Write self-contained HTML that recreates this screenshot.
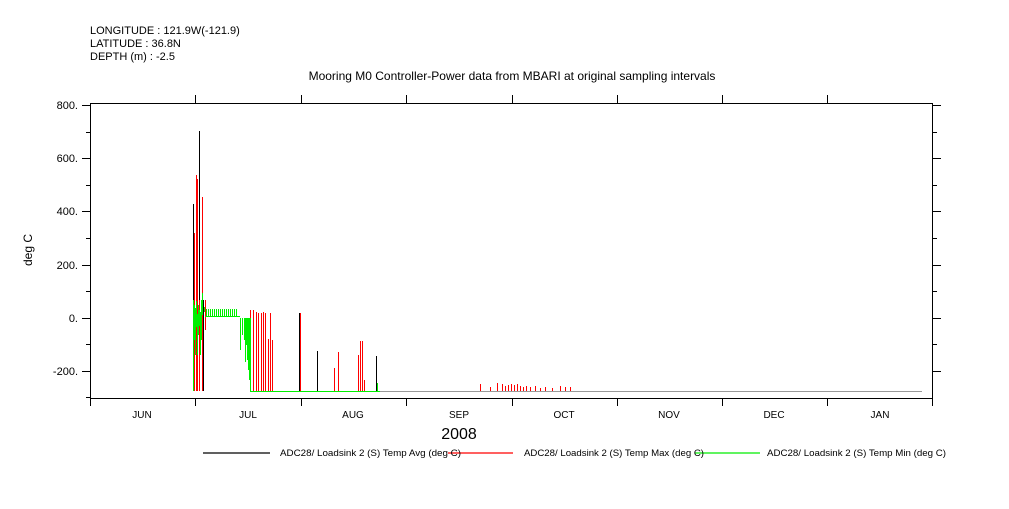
<!DOCTYPE html>
<html><head><style>
body{margin:0;background:#fff;width:1009px;height:504px;overflow:hidden}
svg text{font-family:"Liberation Sans",sans-serif}
</style></head><body>
<svg width="1009" height="504" xmlns="http://www.w3.org/2000/svg">
<g font-size="11" fill="#000">
<text x="90" y="34">LONGITUDE : 121.9W(-121.9)</text>
<text x="90" y="47">LATITUDE : 36.8N</text>
<text x="90" y="60">DEPTH (m) : -2.5</text>
<text x="512" y="80" text-anchor="middle" font-size="12">Mooring M0 Controller-Power data from MBARI at original sampling intervals</text>
</g>
<g stroke="#000" stroke-width="1" fill="none">
<line x1="90" y1="103.5" x2="933" y2="103.5"/>
<line x1="90" y1="398.5" x2="933" y2="398.5"/>
<line x1="90.5" y1="103" x2="90.5" y2="398"/>
<line x1="932.5" y1="103" x2="932.5" y2="398"/>
<line x1="827.5" y1="95" x2="827.5" y2="103"/>
</g>
<g stroke="#000">
<path d="M90.5 398v8M195.5 398v8M301.5 398v8M406.5 398v8M512.5 398v8M617.5 398v8M722.5 398v8M827.5 398v8M932.5 398v8
M195.5 103v-8M301.5 103v-8M406.5 103v-8M512.5 103v-8M617.5 103v-8M722.5 103v-8"/>
<path d="M82 105.5h8M86 132.5h4M82 158.5h8M86 185.5h4M82 211.5h8M86 238.5h4M82 265.5h8M86 291.5h4M82 318.5h8M86 344.5h4M82 371.5h8M86 397.5h4
M933 105.5h8M933 132.5h4M933 158.5h8M933 185.5h4M933 211.5h8M933 238.5h4M933 265.5h8M933 291.5h4M933 318.5h8M933 344.5h4M933 371.5h8"/>
</g>
<g font-size="11" text-anchor="end">
<text x="78" y="109">800.</text><text x="78" y="162">600.</text><text x="78" y="215">400.</text><text x="78" y="269">200.</text><text x="78" y="322">0.</text><text x="78" y="375">-200.</text>
</g>
<text x="32" y="250" font-size="12" transform="rotate(-90 32 250)" text-anchor="middle">deg C</text>
<g font-size="10" text-anchor="middle">
<text x="142" y="418">JUN</text><text x="248" y="418">JUL</text><text x="353" y="418">AUG</text><text x="459" y="418">SEP</text><text x="564" y="418">OCT</text><text x="669" y="418">NOV</text><text x="774" y="418">DEC</text><text x="880" y="418">JAN</text>
</g>
<text x="459" y="439" font-size="16" text-anchor="middle">2008</text>
<!-- baseline -->
<line x1="380" y1="391.5" x2="922" y2="391.5" stroke="#999" stroke-width="1"/>
<!-- red max -->
<g stroke="#f00" stroke-width="1">
<path d="M193.5 391V204M194.5 391V233M196.5 391V175M197.5 391V179M199.5 391V131M202.5 391V197M205.5 330V300
M250.5 391V310M253.5 391V310M256.5 391V312M258.5 391V313M261.5 391V313M263.5 391V312M265.5 391V313M268.5 391V339M270.5 391V313M272.5 391V340
M300.5 391V313M317.5 391V351M338.5 391V352M334.5 391V368M358.5 391V355M360.5 391V341M362.5 391V341M364.5 391V380M376.5 391V356
M480.5 391V384M490.5 391V387M497.5 391V383M502.5 391V384M505.5 391V386M508.5 391V385M511.5 391V384M514.5 391V385M517.5 391V384M520.5 391V386M523.5 391V387M526.5 391V386M530.5 391V387M535.5 391V386M540.5 391V388M545.5 391V387M552.5 391V388M560.5 391V386M565.5 391V387M570.5 391V387"/>
</g>
<!-- green min -->
<g stroke="#0e0" stroke-width="1" fill="none">
<path d="M193.5 391V275M194.5 340V305M195.5 355V308M196.5 327V301M197.5 355V314M198.5 335V305M199.5 326V310M200.5 355V312M201.5 340V300M202.5 315V293M203.5 360V305M204.5 312V307"/>
<path d="M206.5 316V309M208.5 316V309M210.5 316V309M212.5 316V309M214.5 316V309M216.5 316V309M218.5 316V309M220.5 316V309M222.5 316V309M224.5 316V309M226.5 316V309M228.5 316V309M230.5 316V309M232.5 316V309M234.5 316V309M236.5 316V309M205 316.5H240"/>
<path d="M240.5 318V350M242.5 318V335M244.5 318V340M245.5 318V362M246.5 318V345M247.5 318V360M248.5 318V370M249.5 318V380M250.5 318V391"/>
<path d="M250 391.5H380"/>
<path d="M377.5 391V383M376.5 391V385"/>
</g>
<g stroke="#000" stroke-width="1">
<path d="M193.5 300V204M199.5 300V131M203.5 391V300M299.5 391V313M317.5 391V351M376.5 391V356"/>
</g>
<!-- legend -->
<g stroke-width="1.3">
<line x1="203" y1="453" x2="270" y2="453" stroke="#000"/>
<line x1="448" y1="453" x2="513" y2="453" stroke="#f00"/>
<line x1="695" y1="453" x2="760" y2="453" stroke="#0e0"/>
</g>
<g font-size="9.5">
<text x="280" y="456" textLength="181" lengthAdjust="spacingAndGlyphs">ADC28/ Loadsink 2 (S) Temp Avg (deg C)</text>
<text x="524" y="456" textLength="180" lengthAdjust="spacingAndGlyphs">ADC28/ Loadsink 2 (S) Temp Max (deg C)</text>
<text x="767" y="456" textLength="179" lengthAdjust="spacingAndGlyphs">ADC28/ Loadsink 2 (S) Temp Min (deg C)</text>
</g>
</svg>
</body></html>
